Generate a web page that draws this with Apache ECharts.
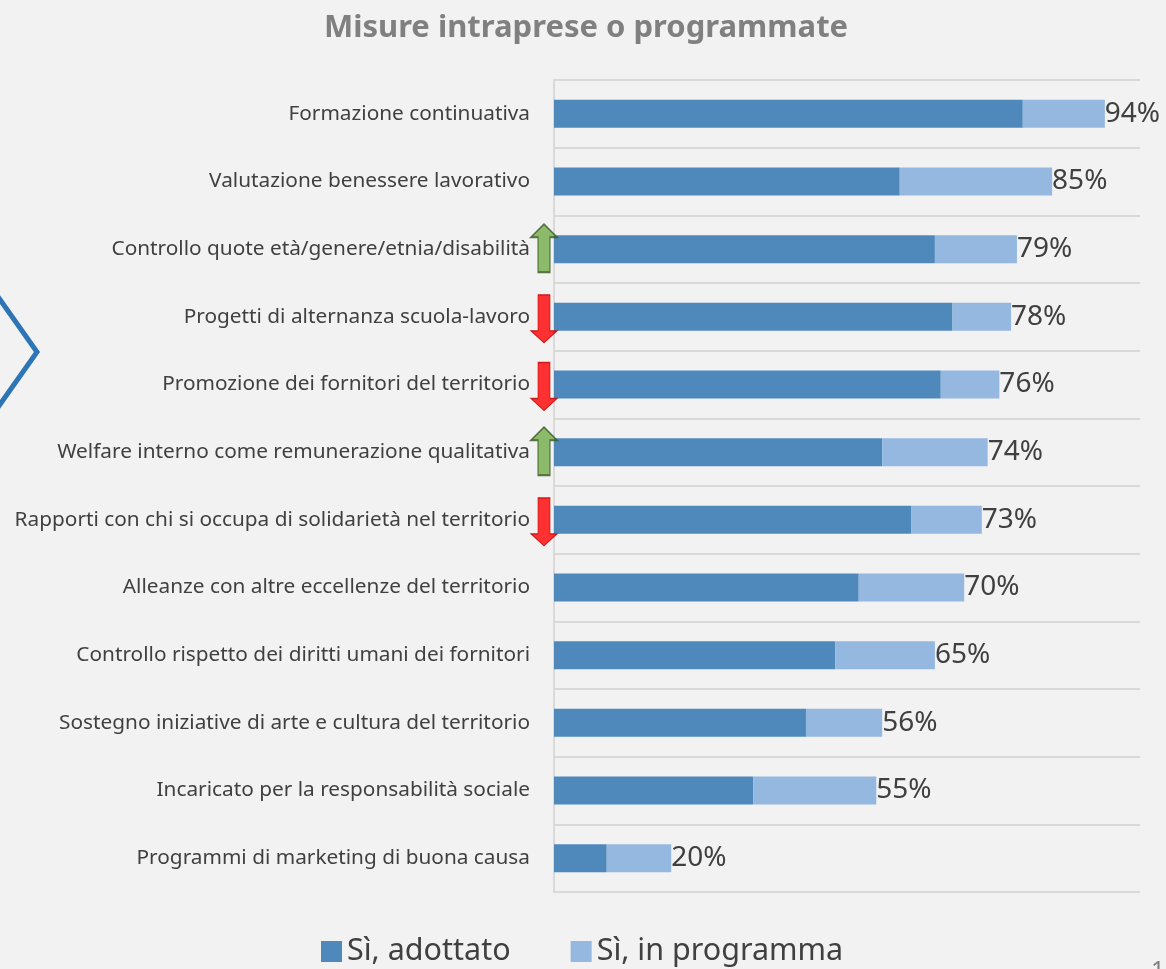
<!DOCTYPE html>
<html>
<head>
<meta charset="utf-8">
<script src="https://cdn.jsdelivr.net/npm/echarts@6/dist/echarts.min.js"></script>
<style>
  html, body { margin: 0; padding: 0; background: #f2f2f2; }
  #chart { width: 1166px; height: 969px; }
</style>
</head>
<body>
<div id="chart"></div>
<script>
// dati
const categorie = [
  "Formazione continuativa",
  "Valutazione benessere lavorativo",
  "Controllo quote età/genere/etnia/disabilità",
  "Progetti di alternanza scuola-lavoro",
  "Promozione dei fornitori del territorio",
  "Welfare interno come remunerazione qualitativa",
  "Rapporti con chi si occupa di solidarietà nel territorio",
  "Alleanze con altre eccellenze del territorio",
  "Controllo rispetto dei diritti umani dei fornitori",
  "Sostegno iniziative di arte e cultura del territorio",
  "Incaricato per la responsabilità sociale",
  "Programmi di marketing di buona causa",
];
const adottato = [80, 59, 65, 68, 66, 56, 61, 52, 48, 43, 34, 9];
const inProgramma = [14, 26, 14, 10, 10, 18, 12, 18, 17, 13, 21, 11];
// frecce accanto alle voci: su / giu
const tendenza = ["", "", "su", "giu", "giu", "su", "giu", "", "", "", "", ""];

const FONT = "Noto Sans";
const frecciaSu = "path://M13,0 L26,13 L19,13 L19,48 L7,48 L7,13 L0,13 Z";
const frecciaGiu = "path://M7,0 L19,0 L19,36 L26,36 L13,48 L0,36 L7,36 Z";

const frecce = [];
tendenza.forEach((t, i) => {
  if (!t) return;
  const su = t === "su";
  frecce.push({
    value: [0, categorie[i]],
    symbol: su ? frecciaSu : frecciaGiu,
    symbolOffset: su ? [-10, -1] : [-10, 2],
    itemStyle: su
      ? { color: "#70ad47", borderColor: "#375623", borderWidth: 1.5 }
      : { color: "#ff0000", borderColor: "#c00000", borderWidth: 1 },
  });
});

const myChart = echarts.init(document.getElementById("chart"));
myChart.setOption({
  backgroundColor: "#f2f2f2",
  animation: false,
  title: {
    text: "Misure intraprese o programmate",
    left: 581,
    textAlign: "center",
    top: 8,
    textStyle: {
      fontFamily: FONT,
      fontWeight: "bold",
      fontSize: 31,
      color: "#808080",
    },
  },
  legend: {
    top: 931,
    left: 316,
    itemWidth: 21,
    itemHeight: 21,
    itemGap: 60,
    icon: "rect",
    data: ["Sì, adottato", "Sì, in programma"],
    textStyle: { fontFamily: FONT, fontSize: 30.5, color: "#404040" },
  },
  grid: { left: 554, right: 26, top: 80, bottom: 77 },
  xAxis: {
    type: "value",
    min: 0,
    max: 100,
    axisLabel: { show: false },
    axisLine: { show: false },
    axisTick: { show: false },
    splitLine: { show: false },
  },
  yAxis: {
    type: "category",
    inverse: true,
    data: categorie,
    axisTick: { show: false },
    axisLine: { show: true, lineStyle: { color: "#d9d9d9", width: 2 } },
    splitLine: { show: true, lineStyle: { color: "#d9d9d9", width: 2 } },
    axisLabel: {
      fontFamily: FONT,
      fontSize: 20.8,
      color: "#404040",
      margin: 24,
    },
  },
  graphic: [
    {
      type: "polyline",
      shape: { points: [[-4, 294], [37, 352], [-4, 410]] },
      style: { stroke: "#2e75b6", lineWidth: 5, fill: null },
    },
    {
      type: "text",
      left: 1151,
      top: 959,
      style: { text: "1", font: "24px Noto Sans", fill: "#7f7f7f" },
    },
  ],
  series: [
    {
      name: "Sì, adottato",
      type: "bar",
      stack: "tot",
      barWidth: 28,
      itemStyle: { color: "#4f89bc" },
      data: adottato,
    },
    {
      name: "Sì, in programma",
      type: "bar",
      stack: "tot",
      barWidth: 28,
      itemStyle: { color: "#95b8e0" },
      label: {
        show: true,
        position: "right",
        distance: 0,
        fontFamily: FONT,
        fontSize: 28,
        color: "#404040",
        formatter: (p) => adottato[p.dataIndex] + inProgramma[p.dataIndex] + "%",
      },
      data: inProgramma,
    },
    {
      type: "scatter",
      clip: false,
      symbolSize: [26, 48],
      z: 5,
      silent: true,
      data: frecce,
    },
  ],
});
</script>
</body>
</html>
